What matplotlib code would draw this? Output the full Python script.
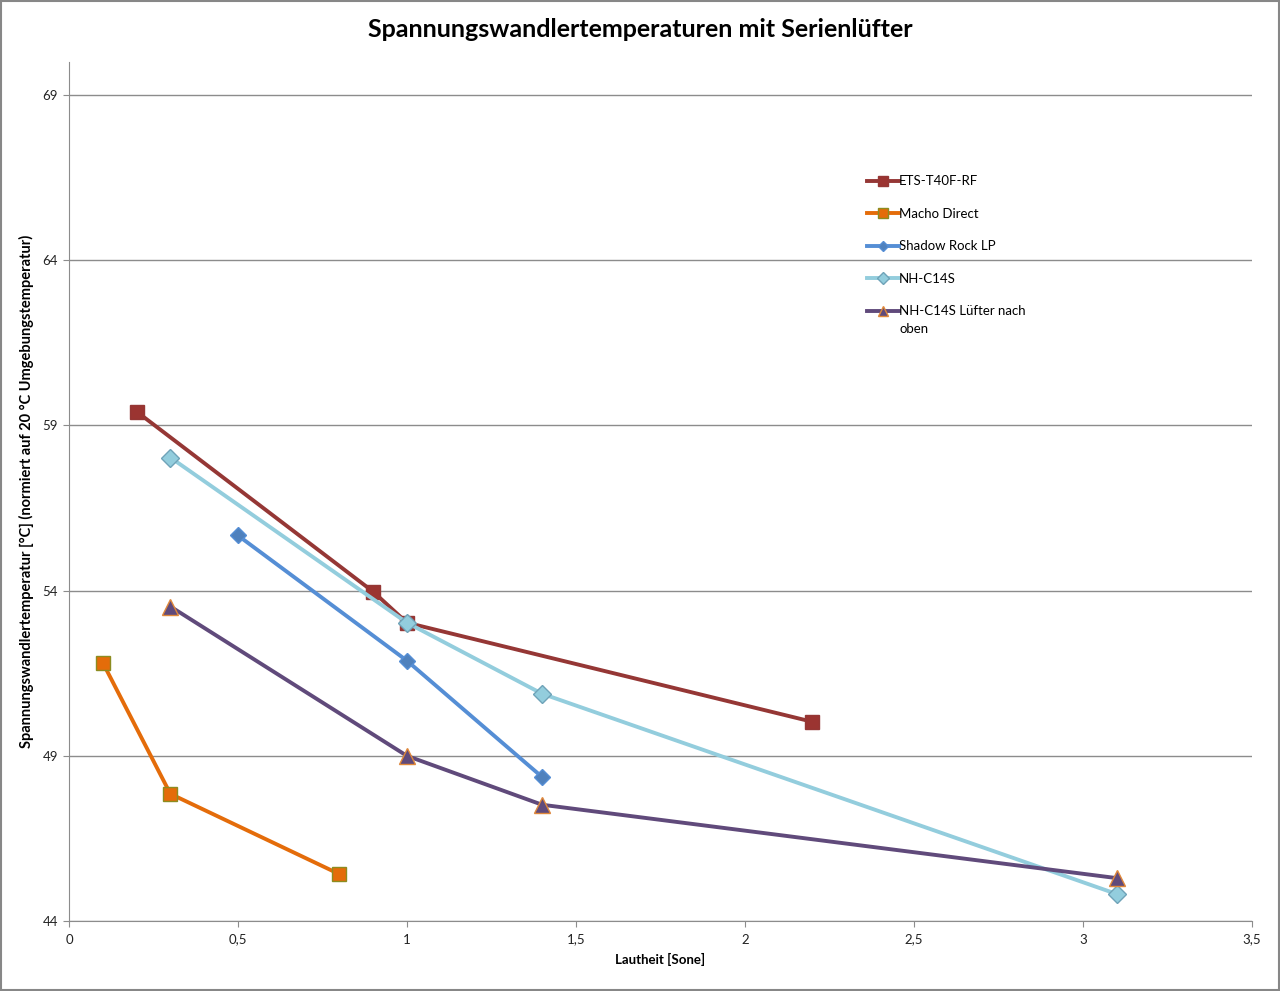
import matplotlib
import matplotlib.pyplot as plt
from matplotlib.ticker import FuncFormatter

matplotlib.use("agg")

plt.rcParams["font.family"] = ["Lato", "DejaVu Sans"]

ets_x = [0.2, 0.9, 1.0, 2.2]
ets_y = [59.42, 53.97, 53.03, 50.03]

macho_x = [0.1, 0.3, 0.8]
macho_y = [51.82, 47.85, 45.42]

shadow_x = [0.5, 1.0, 1.4]
shadow_y = [55.67, 51.88, 48.36]

nh_x = [0.3, 1.0, 1.4, 3.1]
nh_y = [58.03, 53.03, 50.88, 44.82]

nh_up_x = [0.3, 1.0, 1.4, 3.1]
nh_up_y = [53.52, 49.0, 47.52, 45.3]

y_ticks = [44, 49, 54, 59, 64, 69]
x_ticks = [0, 0.5, 1, 1.5, 2, 2.5, 3, 3.5]

fig = plt.figure(figsize=(12.8, 9.91), dpi=100)
ax = fig.add_axes([0.0539, 0.0706, 0.924, 0.8668])

# border around the whole picture, like the Excel chart area
fig.patches.append(plt.Rectangle((0.001, 0.001), 0.998, 0.998, transform=fig.transFigure,
                                 fill=False, edgecolor="#878787", lw=1.5))

ax.plot(ets_x, ets_y, color="#953735", lw=2.8, marker="s", ms=10,
        mfc="#9B3431", mec="#953735", label="ETS-T40F-RF", zorder=3)
ax.plot(macho_x, macho_y, color="#E46C0A", lw=2.8, marker="s", ms=10,
        mfc="#E46C0A", mec="#8C8C20", label="Macho Direct", zorder=3)
ax.plot(shadow_x, shadow_y, color="#558ED5", lw=2.8, marker="D", ms=8,
        mfc="#4F81BD", mec="#558ED5", label="Shadow Rock LP", zorder=3)
ax.plot(nh_x, nh_y, color="#93CDDD", lw=2.8, marker="D", ms=9,
        mfc="#93CDDD", mec="#6FA3B8", label="NH-C14S", zorder=3)
ax.plot(nh_up_x, nh_up_y, color="#604A7B", lw=2.8, marker="^", ms=11,
        mfc="#604A7B", mec="#E0883A", label="NH-C14S Lüfter nach", zorder=4)

ax.set_xlim(0, 3.5)
ax.set_ylim(44, 70)
ax.set_xticks(x_ticks)
ax.set_yticks(y_ticks)
ax.xaxis.set_major_formatter(FuncFormatter(lambda v, p: f"{v:g}".replace(".", ",")))
ax.grid(axis="y", color="#8C8C8C", lw=1)
ax.set_axisbelow(True)
for s in ["top", "right"]:
    ax.spines[s].set_visible(False)
ax.spines["left"].set_color("#8C8C8C")
ax.spines["bottom"].set_color("#8C8C8C")
ax.tick_params(axis="both", colors="#8C8C8C", labelcolor="#222222", labelsize=9.5,
               length=4, direction="out")
ax.tick_params(axis="x", pad=5)
ax.tick_params(axis="y", pad=4)

ax.set_xlabel("Lautheit [Sone]", fontsize=9.5, fontweight="bold", labelpad=5)
ax.set_ylabel("Spannungswandlertemperatur [°C] (normiert auf 20 °C Umgebungstemperatur)",
              fontsize=10.5, fontweight="bold", labelpad=6)
fig.suptitle("Spannungswandlertemperaturen mit Serienlüfter", x=0.5, y=0.982,
             fontsize=18, fontweight="bold")

leg = ax.legend(loc="upper left", bbox_to_anchor=(0.668, 0.835), bbox_transform=fig.transFigure,
                frameon=False, fontsize=9.5, labelspacing=1.55, handlelength=2.4,
                handletextpad=0.05, markerscale=0.7)

# second line of the last legend entry, Excel keeps the marker on the first line
fig.canvas.draw()
last = leg.get_texts()[-1].get_window_extent()
fig.text(last.x0 / fig.bbox.width, (last.y0 - 18) / fig.bbox.height, "oben",
         fontsize=9.5, va="bottom", ha="left")

fig.savefig("out.png", dpi=100)
